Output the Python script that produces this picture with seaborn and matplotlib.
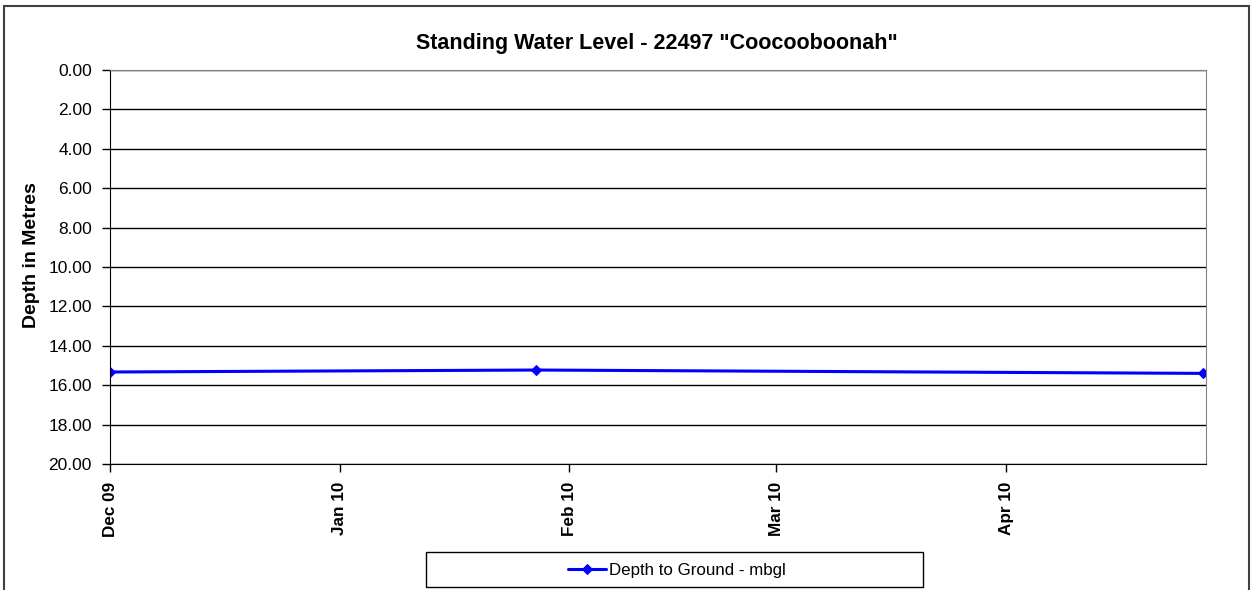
import pandas as pd
import matplotlib
matplotlib.use("Agg")
import matplotlib.pyplot as plt
import matplotlib.dates as mdates
from matplotlib.patches import Rectangle
import seaborn as sns

# data
dates = ["2009-12-01 00:00", "2010-01-27 12:00", "2010-04-27 14:00"]
depths = [15.33, 15.23, 15.40]
series_name = "Depth to Ground - mbgl"
x_min, x_max = "2009-12-01", "2010-04-28"
tick_months = ["2009-12-01", "2010-01-01", "2010-02-01", "2010-03-01", "2010-04-01"]

df = pd.DataFrame({"date": pd.to_datetime(dates, format="%Y-%m-%d %H:%M"),
                   "depth": depths})

sns.set_style("white")
plt.rcParams["font.family"] = ["Liberation Sans", "DejaVu Sans"]
plt.rcParams["text.color"] = "black"
plt.rcParams["xtick.color"] = "black"
plt.rcParams["ytick.color"] = "black"
plt.rcParams["axes.labelcolor"] = "black"

W, H = 1252, 590
fig = plt.figure(figsize=(W / 100, H / 100), dpi=100)
ax = fig.add_axes([110 / W, 1 - 464 / H, (1206 - 110) / W, (464 - 70) / H])

sns.lineplot(data=df, x="date", y="depth", ax=ax, color="#0000ff", linewidth=2.2,
             marker="D", markersize=5.5, markeredgecolor="#0000ff", label=series_name)

ax.set_ylim(20, 0)
ax.set_yticks(range(0, 21, 2))
ax.set_yticklabels([f"{v:.2f}" for v in range(0, 21, 2)], fontsize=12.5)
ax.set_xlim(pd.Timestamp(x_min), pd.Timestamp(x_max))
ax.set_xticks(pd.to_datetime(tick_months))
ax.xaxis.set_major_formatter(mdates.DateFormatter("%b %y"))
for lab in ax.get_xticklabels():
    lab.set_rotation(90)
    lab.set_fontweight("bold")
    lab.set_fontsize(12.3)

ax.grid(axis="y", color="black", linewidth=1.0)
ax.grid(axis="x", visible=False)
ax.tick_params(axis="y", direction="out", length=6, width=1, color="black",
               left=True, pad=7)
ax.tick_params(axis="x", direction="out", length=6, width=1, color="black",
               bottom=True, pad=7)
ax.spines["left"].set_color("black")
ax.spines["bottom"].set_color("black")
ax.spines["top"].set_color("#808080")
ax.spines["right"].set_color("#808080")

ax.set_xlabel("")
ax.set_ylabel("Depth in Metres", fontsize=14, fontweight="bold")
ax.yaxis.set_label_coords((40 - 110) / (1206 - 110), 0.53)
fig.text(657 / W, 1 - 43 / H, 'Standing Water Level - 22497 "Coocooboonah"',
         ha="center", va="center", fontsize=15.5, fontweight="bold")

# legend without its own frame, boxed like the reference
leg = ax.legend(loc="center", bbox_to_anchor=(677 / W, 1 - 570 / H),
                bbox_transform=fig.transFigure, fontsize=12.2, frameon=False,
                handlelength=2.2, handletextpad=0.2)
fig.patches.append(Rectangle((426 / W, 1 - 587 / H), (923 - 426) / W, 35 / H,
                             transform=fig.transFigure, fill=False,
                             edgecolor="black", linewidth=1.0))

fig.patches.append(Rectangle((4 / W, -0.05), (1249 - 4) / W, 1 - 6 / H + 0.05,
                             transform=fig.transFigure, fill=False,
                             edgecolor="#404040", linewidth=1.5))

fig.savefig("out.png", dpi=100)
